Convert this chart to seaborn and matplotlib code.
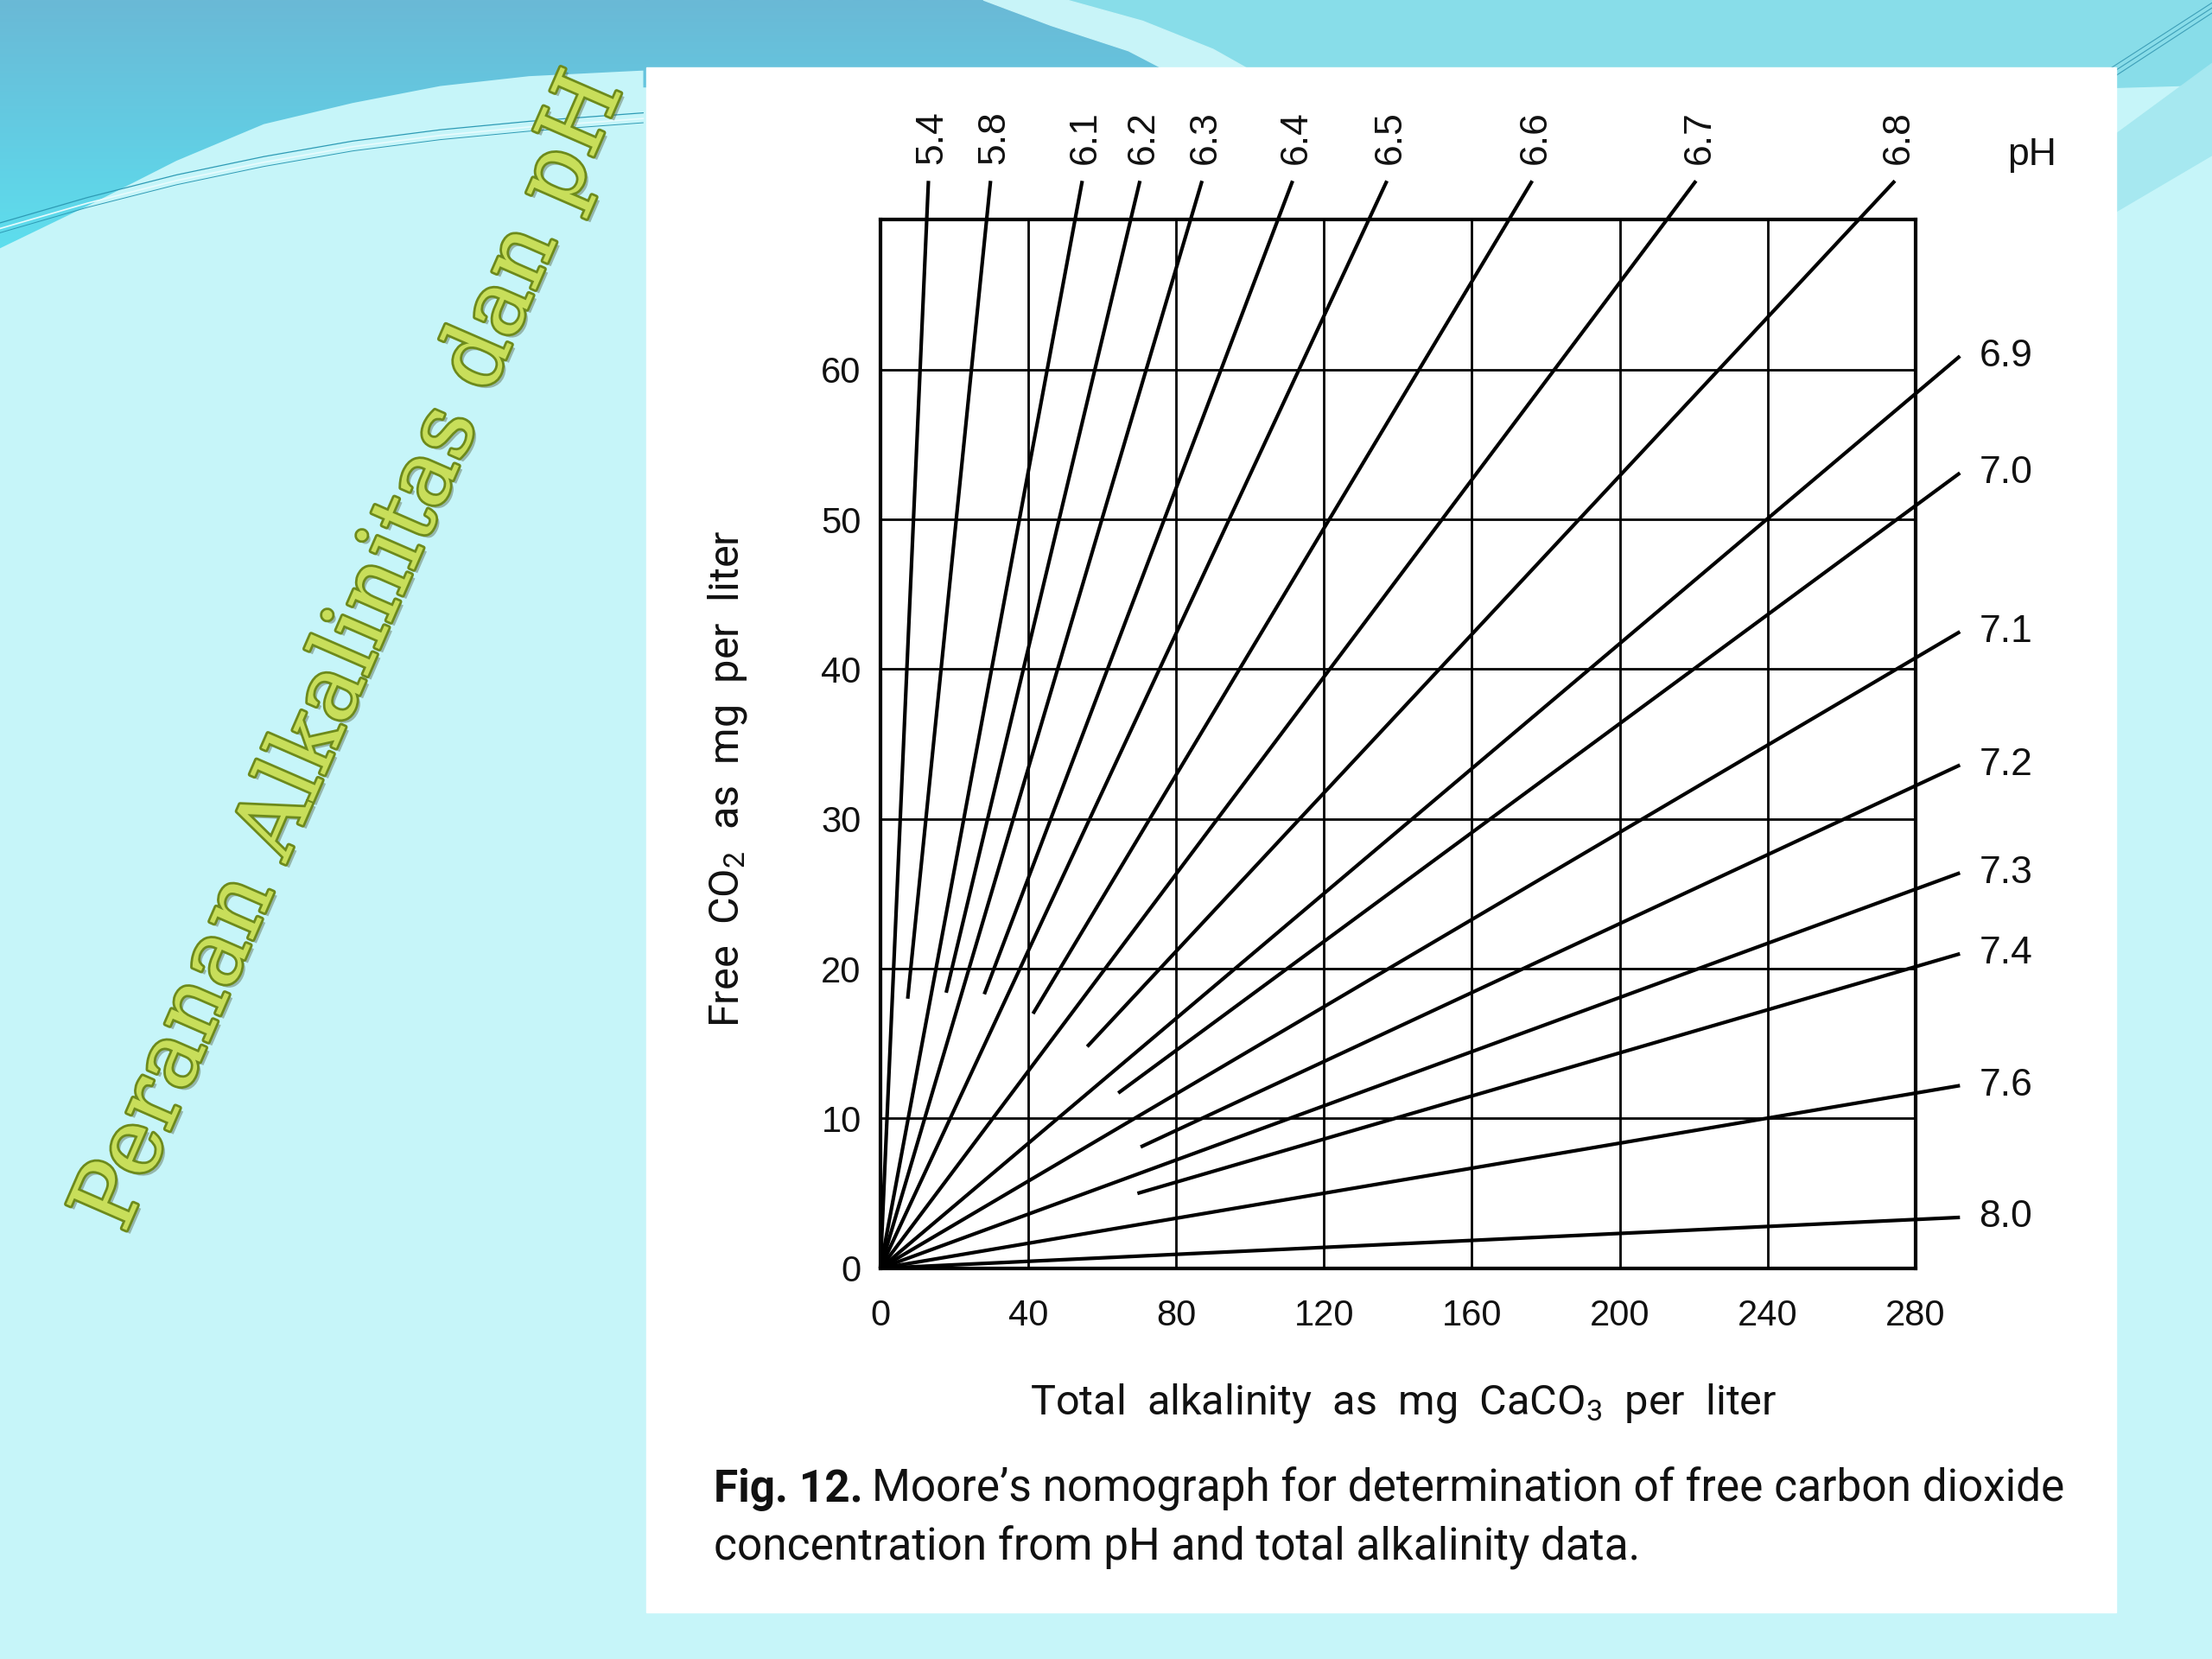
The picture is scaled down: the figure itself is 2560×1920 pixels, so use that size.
import numpy as np
import pandas as pd
import seaborn as sns
import matplotlib.pyplot as plt
from matplotlib.patches import Rectangle, Polygon
import matplotlib.patheffects as pe

# pH rays of the nomograph
# lines that leave through the top of the box: alkalinity at their top end
ph_top = ['5.4', '5.8', '6.1', '6.2', '6.3', '6.4', '6.5', '6.6', '6.7', '6.8']
alk_top_end = [13.0, 29.8, 54.6, 70.2, 87.0, 111.5, 137.0, 176.3, 220.6, 274.4]
co2_top_end = 72.6
# lines that leave through the right side: free CO2 at their right end
ph_right = ['6.9', '7.0', '7.1', '7.2', '7.3', '7.4', '7.6', '8.0']
co2_right_end = [60.9, 53.1, 42.5, 33.6, 26.4, 21.0, 12.2, 3.4]
alk_right_end = 292.0
# some rays are only drawn from part way up (CO2 where the drawn part starts)
partial_ph = ['5.8', '6.2', '6.4', '6.6', '6.8', '7.0', '7.2', '7.4']
partial_start_co2 = [18.0, 18.4, 18.3, 17.0, 14.8, 11.7, 8.1, 5.0]

x_ticks = [0, 40, 80, 120, 160, 200, 240, 280]
y_ticks = [0, 10, 20, 30, 40, 50, 60]


def build_rays():
    start_co2 = dict(zip(partial_ph, partial_start_co2))
    ends = [(p, a, co2_top_end) for p, a in zip(ph_top, alk_top_end)]
    ends += [(p, alk_right_end, c) for p, c in zip(ph_right, co2_right_end)]
    rows = []
    for p, xe, ye in ends:
        y0 = start_co2.get(p, 0.0)
        x0 = xe * y0 / ye  # every ray passes through the origin
        rows.append({'pH': p, 'alk': x0, 'co2': y0})
        rows.append({'pH': p, 'alk': xe, 'co2': ye})
    return pd.DataFrame(rows)


def draw_background(fig):
    # slide background, coordinates in a 1568 x 1176 frame
    bg = fig.add_axes([0, 0, 1, 1], zorder=-10)
    bg.add_patch(Rectangle((0, 0), 1568, 1176, color='#c6f5f9', zorder=0))

    # teal band at top left, with a vertical gradient
    band = Polygon([(0, 0), (697, 0), (745, 18), (800, 36), (850, 52), (850, 62),
                    (456, 62), (456, 50), (375, 54), (312, 61), (250, 73), (187, 88),
                    (125, 114), (62, 146), (0, 176)], closed=True, fc='none', ec='none')
    bg.add_patch(band)
    grad = np.linspace(0, 1, 256).reshape(-1, 1)
    cmap = sns.blend_palette(['#6ab9d6', '#63cbe2', '#5ddfee'], as_cmap=True)
    im = bg.imshow(grad, cmap=cmap, extent=(0, 900, 180, 0), aspect='auto', zorder=0.5)
    im.set_clip_path(band)

    # light swoosh and the area right of it
    bg.add_patch(Polygon([(756, 0), (1568, 0), (1568, 60), (1500, 62), (908, 62),
                          (860, 35), (810, 15)], closed=True, color='#88dde9'))
    bg.add_patch(Polygon([(697, 0), (756, 0), (810, 15), (860, 35), (908, 62),
                          (850, 62), (800, 36), (745, 18)], closed=True, color='#c8f4f8'))
    bg.add_patch(Polygon([(1500, 95), (1568, 45), (1568, 110), (1500, 150)],
                         closed=True, color='#a6e8f0'))
    for off in (0, 6, 12):
        bg.plot([1475 + off, 1568], [62, 2 + off * 0.6], color='#3e9fb8', lw=0.8)
    # thin curved lines on the left
    xs = np.array([0, 62, 125, 187, 250, 312, 375, 456])
    ys = np.array([158, 140, 124, 111, 100, 92, 86, 80])
    bg.plot(xs, ys, color='#2e9bb5', lw=0.9)
    bg.plot(xs, ys + 4, color='#e8fbfd', lw=1.2)
    bg.plot(xs, ys + 7, color='#2e9bb5', lw=0.7)

    # white panel holding the figure
    bg.add_patch(Rectangle((458, 48), 1042, 1095, color='white', zorder=2))
    bg.set_xlim(0, 1568)
    bg.set_ylim(1176, 0)
    bg.axis('off')
    return bg


sns.set_theme(style='white')
plt.rcParams['font.family'] = ['Liberation Sans', 'DejaVu Sans']
plt.rcParams['mathtext.default'] = 'regular'

fig = plt.figure(figsize=(25.6, 19.2), dpi=100)
draw_background(fig)

ax = fig.add_axes([0.398, 0.2355, 0.468, 0.632])
ax.set_facecolor('white')
rays = build_rays()
sns.lineplot(data=rays, x='alk', y='co2', units='pH', estimator=None, sort=False,
             color='black', lw=3.0, ax=ax)
for ln in ax.lines:
    ln.set_clip_on(False)
    ln.set_solid_capstyle('butt')

ax.set_xlim(0, 280)
ax.set_ylim(0, 70)
ax.set_xticks(x_ticks)
ax.set_yticks(y_ticks)
ax.grid(True, color='black', lw=2.0)
ax.set_axisbelow(True)
for s in ax.spines.values():
    s.set_color('black')
    s.set_linewidth(3.0)
ax.tick_params(length=0, labelsize=30, colors='#111111')
ax.tick_params(axis='x', pad=25)
ax.tick_params(axis='y', pad=16)

ax.set_xlabel('Total  alkalinity  as  mg  CaCO$_3$  per  liter', fontsize=35,
              family='Roboto', color='#111111')
ax.xaxis.set_label_coords(0.505, -0.108)
ax.set_ylabel('Free  CO$_2$  as  mg  per  liter', fontsize=35, family='Roboto',
              color='#111111')
ax.yaxis.set_label_coords(-0.127, 0.467)

# pH labels at the line ends
for p, a in zip(ph_top, alk_top_end):
    ax.annotate(p, xy=(a, co2_top_end), xytext=(3, 14), textcoords='offset points',
                rotation=90, ha='center', va='bottom', fontsize=32, color='#111111',
                annotation_clip=False)
for p, c in zip(ph_right, co2_right_end):
    ax.annotate(p, xy=(alk_right_end, c), xytext=(16, 0), textcoords='offset points',
                ha='left', va='center', fontsize=32, color='#111111',
                annotation_clip=False)
ax.text(1.112, 1.062, 'pH', transform=ax.transAxes, ha='center', va='center',
        fontsize=32, color='#111111')

# caption under the chart
cap1 = fig.text(0.3227, 0.0893, 'Fig. 12.', fontsize=37, weight='bold',
                family='Roboto', color='#111111', ha='left', va='bottom')
fig.add_artist(plt.Annotation("Moore\u2019s nomograph for determination of free carbon dioxide",
                              xy=(1, 0), xycoords=cap1, xytext=(7, 0),
                              textcoords='offset points', fontsize=37,
                              family='Roboto', color='#111111', va='bottom'))
fig.text(0.3227, 0.0536, 'concentration from pH and total alkalinity data.', fontsize=37,
         family='Roboto', color='#111111', ha='left', va='bottom')

# slide title
fig.text(0.1585, 0.607, 'Peranan Alkalinitas dan pH', rotation=66.5, rotation_mode='anchor',
         ha='center', va='center', fontsize=75, family='DejaVu Serif', color='#c8de5a',
         path_effects=[pe.SimplePatchShadow(offset=(3, -3), alpha=0.35),
                       pe.withStroke(linewidth=4, foreground='#6d8a1c')])

fig.savefig('out.png', dpi=100)
